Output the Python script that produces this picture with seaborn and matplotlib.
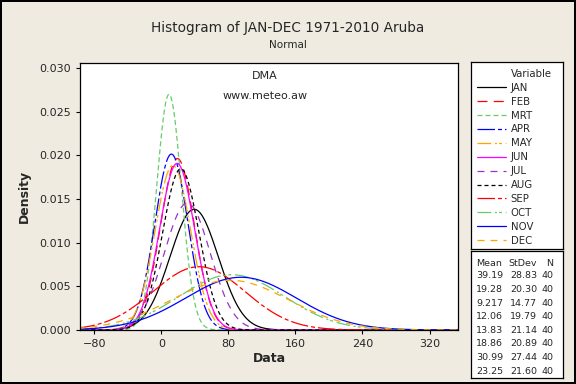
import numpy
import pandas
import seaborn
from matplotlib import pyplot
from matplotlib.lines import Line2D

# fitted normal parameters per month (first eight read off the table, rest estimated)
months = ['JAN', 'FEB', 'MRT', 'APR', 'MAY', 'JUN',
          'JUL', 'AUG', 'SEP', 'OCT', 'NOV', 'DEC']
means = [39.19, 19.28, 9.217, 12.06, 13.83, 18.86,
         30.99, 23.25, 45.0, 84.0, 95.0, 82.0]
stdevs = [28.83, 20.30, 14.77, 19.79, 21.14, 20.89,
          27.44, 21.60, 55.0, 63.0, 66.0, 70.0]
table_means = ['39.19', '19.28', '9.217', '12.06', '13.83', '18.86', '30.99', '23.25']
table_stdevs = ['28.83', '20.30', '14.77', '19.79', '21.14', '20.89', '27.44', '21.60']
table_n = ['40'] * 8

colors = {
    'JAN': 'black', 'FEB': '#ff0000', 'MRT': '#66cc66', 'APR': '#0000ff',
    'MAY': '#ffa500', 'JUN': '#ff00ff', 'JUL': '#9933cc', 'AUG': 'black',
    'SEP': '#ff0000', 'OCT': '#66cc66', 'NOV': '#0000ff', 'DEC': '#ffa500',
}
dashes = {
    'JAN': '', 'FEB': (8, 5), 'MRT': (4, 2.4), 'APR': (14, 2.4, 3.2, 2.4),
    'MAY': (11, 3, 1.6, 1.6, 2.4, 3), 'JUN': '', 'JUL': (5.6, 4.8),
    'AUG': (3.2, 2.4), 'SEP': (14, 2.4, 3.2, 2.4),
    'OCT': (11, 3, 1.6, 1.6, 2.4, 3), 'NOV': '', 'DEC': (5.6, 4.8),
}

BACKGROUND = '#efebe1'
W, H = 576, 384


def fx(x):
    return x / W


def fy(y):
    return 1 - y / H


def boxed_axes(left, top, right, bottom):
    '''white framed panel given in pixel edges'''
    box = figure.add_axes([fx(left), fy(bottom), fx(right) - fx(left), fy(top) - fy(bottom)])
    box.set_xticks([])
    box.set_yticks([])
    box.set_facecolor('white')
    for spine in box.spines.values():
        spine.set_color('black')
        spine.set_linewidth(0.9)
    return box


# build long-form data of the normal curves
x_grid = numpy.linspace(-100, 360, 700)
frames = []
for month, mean, sd in zip(months, means, stdevs):
    density = numpy.exp(-0.5 * ((x_grid - mean) / sd) ** 2) / (sd * numpy.sqrt(2 * numpy.pi))
    frames.append(pandas.DataFrame({'Data': x_grid, 'Density': density, 'Variable': month}))
curves = pandas.concat(frames, ignore_index=True)

seaborn.set_theme(style='white')
pyplot.rcParams['font.family'] = ['DejaVu Sans']

figure = pyplot.figure(figsize=(5.76, 3.84), dpi=100)
figure.patch.set_facecolor(BACKGROUND)
figure.patch.set_edgecolor('black')
figure.patch.set_linewidth(1.5)

axes = figure.add_axes([fx(80), fy(330), fx(458) - fx(80), fy(63) - fy(330)])
seaborn.lineplot(
    data=curves, x='Data', y='Density',
    hue='Variable', style='Variable',
    palette=colors, dashes=dashes,
    linewidth=0.9, legend=False, ax=axes,
)

axes.set_xlim(-97, 354)
axes.set_ylim(0, 0.0306)
axes.set_xticks([-80, 0, 80, 160, 240, 320])
axes.set_yticks([0, 0.005, 0.010, 0.015, 0.020, 0.025, 0.030])
axes.set_yticklabels([f'{v:.3f}' for v in axes.get_yticks()])
axes.tick_params(axis='both', labelsize=8, length=3, width=0.8,
                 direction='out', bottom=True, left=True, color='black')
for spine in axes.spines.values():
    spine.set_color('black')
    spine.set_linewidth(0.9)
axes.set_xlabel('Data', fontsize=9, fontweight='bold', labelpad=2)
axes.set_ylabel('Density', fontsize=9, fontweight='bold', labelpad=6)

axes.text(0.49, 0.95, 'DMA', transform=axes.transAxes,
          ha='center', va='center', fontsize=8)
axes.text(0.49, 0.875, 'www.meteo.aw', transform=axes.transAxes,
          ha='center', va='center', fontsize=8)

figure.text(0.5, fy(28), 'Histogram of JAN-DEC 1971-2010 Aruba',
            ha='center', va='center', fontsize=9.8)
figure.text(0.5, fy(45), 'Normal', ha='center', va='center', fontsize=7.5)

# legend box
legend_axes = boxed_axes(471, 62, 563, 249)
handles = [Line2D([], [], color='none')]
labels = ['Variable']
for month in months:
    line = Line2D([], [], color=colors[month], linewidth=0.9)
    if dashes[month]:
        line.set_dashes(dashes[month])
    handles.append(line)
    labels.append(month)
legend_axes.legend(handles, labels, loc='upper left', frameon=False,
                   fontsize=7.3, handlelength=2.85, handletextpad=0.5,
                   labelspacing=0.385, borderaxespad=0.0,
                   bbox_to_anchor=(0.02, 0.985))

# statistics table box
table_axes = boxed_axes(471, 251, 563, 378)
figure.text(fx(502), fy(264), 'Mean', ha='right', va='center', fontsize=6.8)
figure.text(fx(537), fy(264), 'StDev', ha='right', va='center', fontsize=6.8)
figure.text(fx(553), fy(264), 'N', ha='right', va='center', fontsize=6.8)
for i, (m, s, n) in enumerate(zip(table_means, table_stdevs, table_n)):
    y = 276 + i * 13.6
    figure.text(fx(503), fy(y), m, ha='right', va='center', fontsize=6.8)
    figure.text(fx(537), fy(y), s, ha='right', va='center', fontsize=6.8)
    figure.text(fx(553), fy(y), n, ha='right', va='center', fontsize=6.8)

figure.savefig('out.png', dpi=100, facecolor=figure.get_facecolor(),
               edgecolor=figure.get_edgecolor())
